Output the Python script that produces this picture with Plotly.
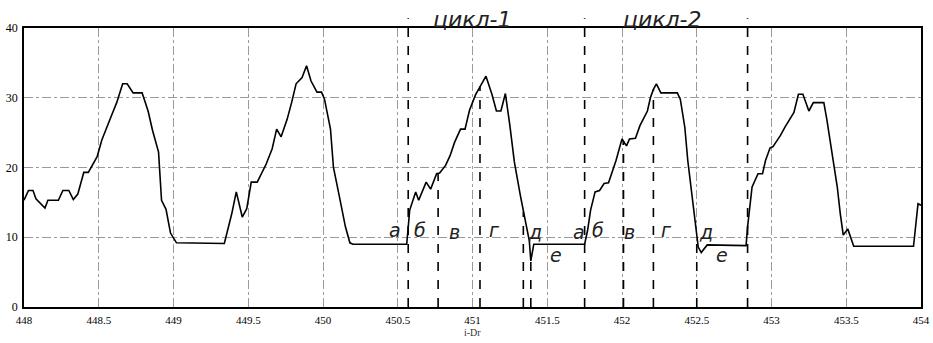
import numpy as np
import plotly.graph_objects as go

# ---- data ----
t = [448.00, 448.03, 448.06, 448.08, 448.14, 448.16, 448.23, 448.26, 448.30, 448.33,
     448.36, 448.40, 448.43, 448.46, 448.49, 448.52, 448.56, 448.59, 448.62, 448.66,
     448.69, 448.73, 448.79, 448.83, 448.86, 448.90, 448.92, 448.95, 448.98, 449.02,
     449.34, 449.39, 449.42, 449.46, 449.49, 449.52, 449.56, 449.59, 449.62, 449.66,
     449.69, 449.72, 449.76, 449.79, 449.82, 449.86, 449.89, 449.92, 449.96, 449.99,
     450.01, 450.05, 450.07, 450.11, 450.15, 450.18, 450.20, 450.56, 450.58, 450.62,
     450.64, 450.69, 450.72, 450.76, 450.78, 450.82, 450.85, 450.88, 450.92, 450.95,
     450.98, 451.02, 451.05, 451.09, 451.13, 451.16, 451.19, 451.22, 451.25, 451.28,
     451.32, 451.35, 451.38, 451.39, 451.41, 451.75, 451.77, 451.79, 451.82, 451.85,
     451.88, 451.91, 451.93, 451.96, 452.00, 452.03, 452.05, 452.09, 452.12, 452.14,
     452.17, 452.19, 452.21, 452.23, 452.26, 452.29, 452.37, 452.39, 452.42, 452.44,
     452.47, 452.49, 452.51, 452.53, 452.57, 452.83, 452.84, 452.87, 452.89, 452.91,
     452.94, 452.96, 452.99, 453.01, 453.06, 453.09, 453.15, 453.18, 453.21, 453.25,
     453.28, 453.35, 453.37, 453.39, 453.41, 453.44, 453.46, 453.48, 453.51, 453.55,
     453.95, 453.97, 453.98, 454.00]
value = [15.3, 16.7, 16.7, 15.5, 14.2, 15.3, 15.3, 16.7, 16.7, 15.4,
         16.2, 19.3, 19.3, 20.5, 21.6, 23.9, 26.2, 27.7, 29.3, 32.0,
         32.0, 30.7, 30.7, 28.1, 25.3, 22.2, 15.3, 14.0, 10.6, 9.2,
         9.1, 13.4, 16.5, 12.9, 14.1, 17.9, 17.9, 19.1, 20.5, 22.7,
         25.5, 24.4, 26.9, 29.3, 32.0, 32.9, 34.6, 32.4, 30.8, 30.8,
         29.8, 25.5, 20.0, 15.8, 11.5, 9.2, 9.0, 9.0, 13.9, 16.5,
         15.3, 17.9, 16.9, 19.1, 19.2, 20.3, 21.7, 23.6, 25.5, 25.5,
         28.2, 30.4, 31.6, 33.1, 30.5, 28.1, 28.1, 30.6, 26.0, 20.8,
         16.0, 12.5, 9.5, 6.6, 9.0, 9.0, 11.0, 13.9, 16.5, 16.7,
         17.7, 17.8, 19.1, 21.0, 24.1, 23.1, 24.1, 24.2, 26.0, 26.9,
         28.1, 30.0, 31.2, 32.0, 30.7, 30.7, 30.7, 29.8, 25.8, 21.0,
         15.3, 11.5, 8.6, 7.8, 8.9, 8.8, 11.5, 17.2, 18.1, 19.1,
         19.1, 21.0, 22.8, 23.0, 24.6, 25.8, 27.9, 30.5, 30.5, 28.1,
         29.3, 29.3, 26.9, 24.3, 21.5, 17.2, 13.4, 10.3, 11.2, 8.7,
         8.7, 12.9, 14.8, 14.6]

cycle_bounds = [450.57, 451.75, 452.84]
phase_marks = [450.77, 451.05, 451.34, 451.39, 452.01, 452.21, 452.50]
cycle_labels = ["цикл-1", "цикл-2"]
phase_letters = ["а", "б", "в", "г", "д", "е"]
x_ticks = [448, 448.5, 449, 449.5, 450, 450.5, 451, 451.5, 452, 452.5, 453, 453.5, 454]
y_ticks = [0, 10, 20, 30, 40]

fig = go.Figure()
fig.add_trace(go.Scatter(x=t, y=value, mode="lines",
                         line=dict(color="black", width=1.6), showlegend=False,
                         hoverinfo="skip"))

shapes = []
for xb in cycle_bounds:
    shapes.append(dict(type="line", xref="x", yref="paper", x0=xb, x1=xb, y0=0, y1=1.035,
                       line=dict(color="black", width=1.6, dash="dash")))
for xm in phase_marks:
    top = float(np.interp(xm, t, value))
    shapes.append(dict(type="line", xref="x", yref="y", x0=xm, x1=xm, y0=0, y1=top,
                       line=dict(color="black", width=1.6, dash="dash")))

annotations = []
for lbl, xc in zip(cycle_labels, [451.0, 452.27]):
    annotations.append(dict(x=xc, y=1.03, xref="x", yref="paper", text="<i>" + lbl + "</i>",
                            showarrow=False, yanchor="middle",
                            font=dict(family="DejaVu Sans", size=22, color="#222")))
letter_pos = [(450.48, 11.0), (450.65, 11.1), (450.88, 10.8), (451.15, 11.0), (451.42, 10.8), (451.56, 7.4),
              (451.71, 10.8), (451.84, 11.0), (452.05, 10.8), (452.30, 11.0), (452.56, 10.8), (452.67, 7.4)]
for i, (xp, yp) in enumerate(letter_pos):
    annotations.append(dict(x=xp, y=yp, xref="x", yref="y", text="<i>" + phase_letters[i % 6] + "</i>",
                            showarrow=False, font=dict(family="DejaVu Sans", size=19, color="#222")))
annotations.append(dict(x=451.0, y=-0.065, xref="x", yref="paper", text="i-Dr", showarrow=False,
                        yanchor="top", font=dict(family="Liberation Serif", size=10, color="#333")))

fig.update_layout(
    width=933, height=343,
    margin=dict(l=24, r=12, t=28, b=36),
    paper_bgcolor="white", plot_bgcolor="white",
    shapes=shapes, annotations=annotations,
    font=dict(family="Liberation Serif", size=11, color="black"),
)
fig.update_xaxes(range=[448, 454], tickvals=x_ticks, ticktext=[f"{v:g}" for v in x_ticks],
                 showline=True, mirror=True, linecolor="black", linewidth=1.6,
                 showgrid=True, gridcolor="#9a9a9a", griddash="dashdot", gridwidth=1,
                 zeroline=False, ticks="", ticklabelstandoff=2, automargin=False)
fig.update_yaxes(range=[0, 40], tickvals=y_ticks,
                 showline=True, mirror=True, linecolor="black", linewidth=1.6,
                 showgrid=True, gridcolor="#9a9a9a", griddash="dashdot", gridwidth=1,
                 zeroline=False, ticks="", ticklabelstandoff=2, automargin=False,
                 tickfont=dict(size=12))

fig.write_html("out.html", config={"displayModeBar": False},
               post_script="document.body.style.margin='0';document.body.style.overflow='hidden';")
